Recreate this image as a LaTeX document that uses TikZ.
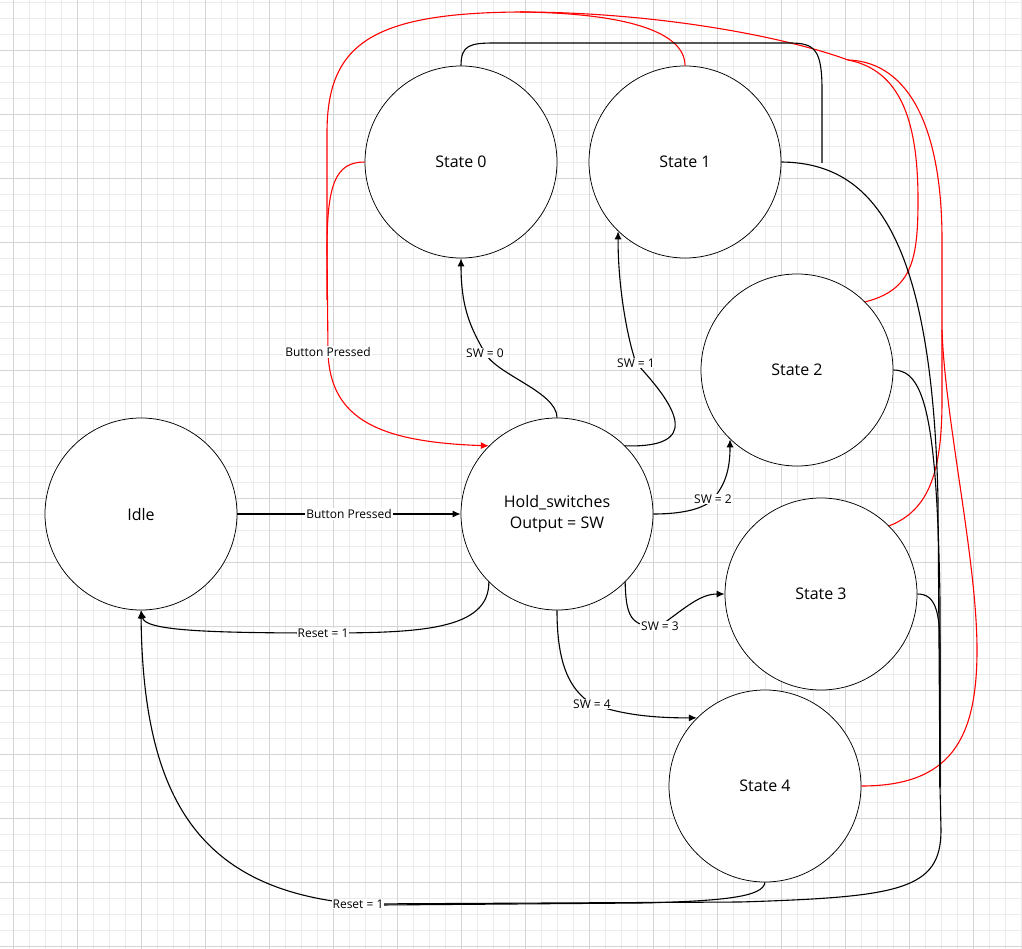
\documentclass[tikz,border=0pt]{standalone}
\usepackage{fontspec}
\setmainfont{Open Sans}
\usetikzlibrary{arrows.meta}

\tikzset{
	st/.style={circle, draw, line width=0.75pt, fill=white, minimum size=192pt, inner sep=0pt, align=center, font=\fontsize{16}{21}\selectfont},
	wire/.style={line width=1.1pt},
	arr/.style={wire, -{Latex[length=8pt,width=7pt]}},
	rwire/.style={wire, red},
	rarr/.style={arr, red},
	lbl/.style={fill=white, text=black, inner sep=1pt, font=\fontsize{12}{14}\selectfont},
	gridmin/.style={draw=black!8, line width=0.6pt},
	gridmaj/.style={draw=black!17, line width=0.6pt}
}

\begin{document}
\begin{tikzpicture}[x=1pt,y=-1pt]
	\useasboundingbox (0,0) rectangle (1022,949);
	\fill[white] (0,0) rectangle (1022,949);
	% grid
	\foreach \i in {0,...,63} \draw[gridmin] ({13.3+16*\i},0) -- ({13.3+16*\i},949);
	\foreach \i in {0,...,59} \draw[gridmin] (0,{2.7+16*\i}) -- (1022,{2.7+16*\i});
	\foreach \i in {0,...,15} \draw[gridmaj] ({13.3+64*\i},0) -- ({13.3+64*\i},949);
	\foreach \i in {0,...,14} \draw[gridmaj] (0,{50.7+64*\i}) -- (1022,{50.7+64*\i});

	\node[st] (idle) at (141,514) {Idle};
	\node[st] (hold) at (557,514) {Hold\_switches\\Output = SW};
	\node[st] (s0) at (461,162) {State 0};
	\node[st] (s1) at (685,162) {State 1};
	\node[st] (s2) at (797,370) {State 2};
	\node[st] (s3) at (821,594) {State 3};
	\node[st] (s4) at (765,786) {State 4};

	\coordinate (j1) at (822,163);
	\coordinate (bus) at (940,787);
	\coordinate (b4j) at (380,905);
	\coordinate (rtop) at (848,60);
	\coordinate (rmid) at (520,12);
	\coordinate (rside) at (942,330);
	\coordinate (rleft) at (327,300);

	% Idle <-> Hold
	\draw[arr] (idle) -- node[lbl]{Button Pressed} (hold);
	\draw[arr] (hold.225) .. controls (489,630) and (420,633) .. (323,633) node[lbl]{Reset = 1} .. controls (200,633) and (145,630) .. (idle.south);

	% Hold -> states
	\draw[arr] (hold.north) .. controls (557,392) and (497,375) .. (485,353) node[lbl]{SW = 0} .. controls (472,330) and (461,310) .. (s0.south);
	\draw[arr] (hold.45) .. controls (700,448) and (680,410) .. (636,363) node[lbl]{SW = 1} .. controls (628,340) and (618,290) .. (s1.226);
	\draw[arr] (hold.east) .. controls (685,514) and (705,508) .. (713,499) node[lbl]{SW = 2} .. controls (725,485) and (730,470) .. (s2.226);
	\draw[arr] (hold.-45) .. controls (626,615) and (630,628) .. (660,626) node[lbl]{SW = 3} .. controls (685,608) and (700,594) .. (s3.west);
	\draw[arr] (hold.south) .. controls (557,665) and (570,690) .. (592,704) node[lbl]{SW = 4} .. controls (620,714) and (650,718) .. (s4.135);

	% states -> Hold
	\draw[rarr] (s0.west) .. controls (335,162) and (327,185) .. (327,250) -- (328,352) node[lbl]{Button Pressed} .. controls (330,420) and (380,442) .. (hold.135);
	\draw[rwire] (s1.north) .. controls (685,30) and (620,13) .. (rmid) .. controls (370,13) and (327,45) .. (327,133) -- (rleft);
	\draw[rwire] (rtop) .. controls (780,35) and (650,12) .. (rmid);
	\draw[rwire] (s2.45) .. controls (912,290) and (918,260) .. (918,200) .. controls (918,120) and (900,70) .. (rtop);
	\draw[rwire] (s3.45) .. controls (930,510) and (942,470) .. (942,400) -- (942,240) .. controls (942,130) and (910,62) .. (rtop);
	\draw[rwire] (s4.east) .. controls (950,786) and (977,740) .. (977,650) .. controls (977,560) and (945,420) .. (rside);

	% states -> Idle
	\draw[wire] (s0.north) .. controls (461,45) and (470,43) .. (495,43) -- (790,43) .. controls (815,43) and (822,50) .. (822,90) -- (j1);
	\draw[wire] (s1.east) .. controls (870,163) and (932,230) .. (938,500) -- (bus);
	\draw[wire] (s2.east) .. controls (925,370) and (937,420) .. (940,600) -- (bus);
	\draw[wire] (s3.east) .. controls (935,594) and (940,610) .. (940,650) -- (bus);
	\draw[wire] (s4.south) .. controls (763,896) and (730,901) .. (640,903) -- (b4j);
	\draw[arr] (bus) -- (941,830) .. controls (941,890) and (900,897) .. (740,902) -- (358,904) node[lbl]{Reset = 1} .. controls (200,890) and (143,800) .. (idle.south);
\end{tikzpicture}
\end{document}
